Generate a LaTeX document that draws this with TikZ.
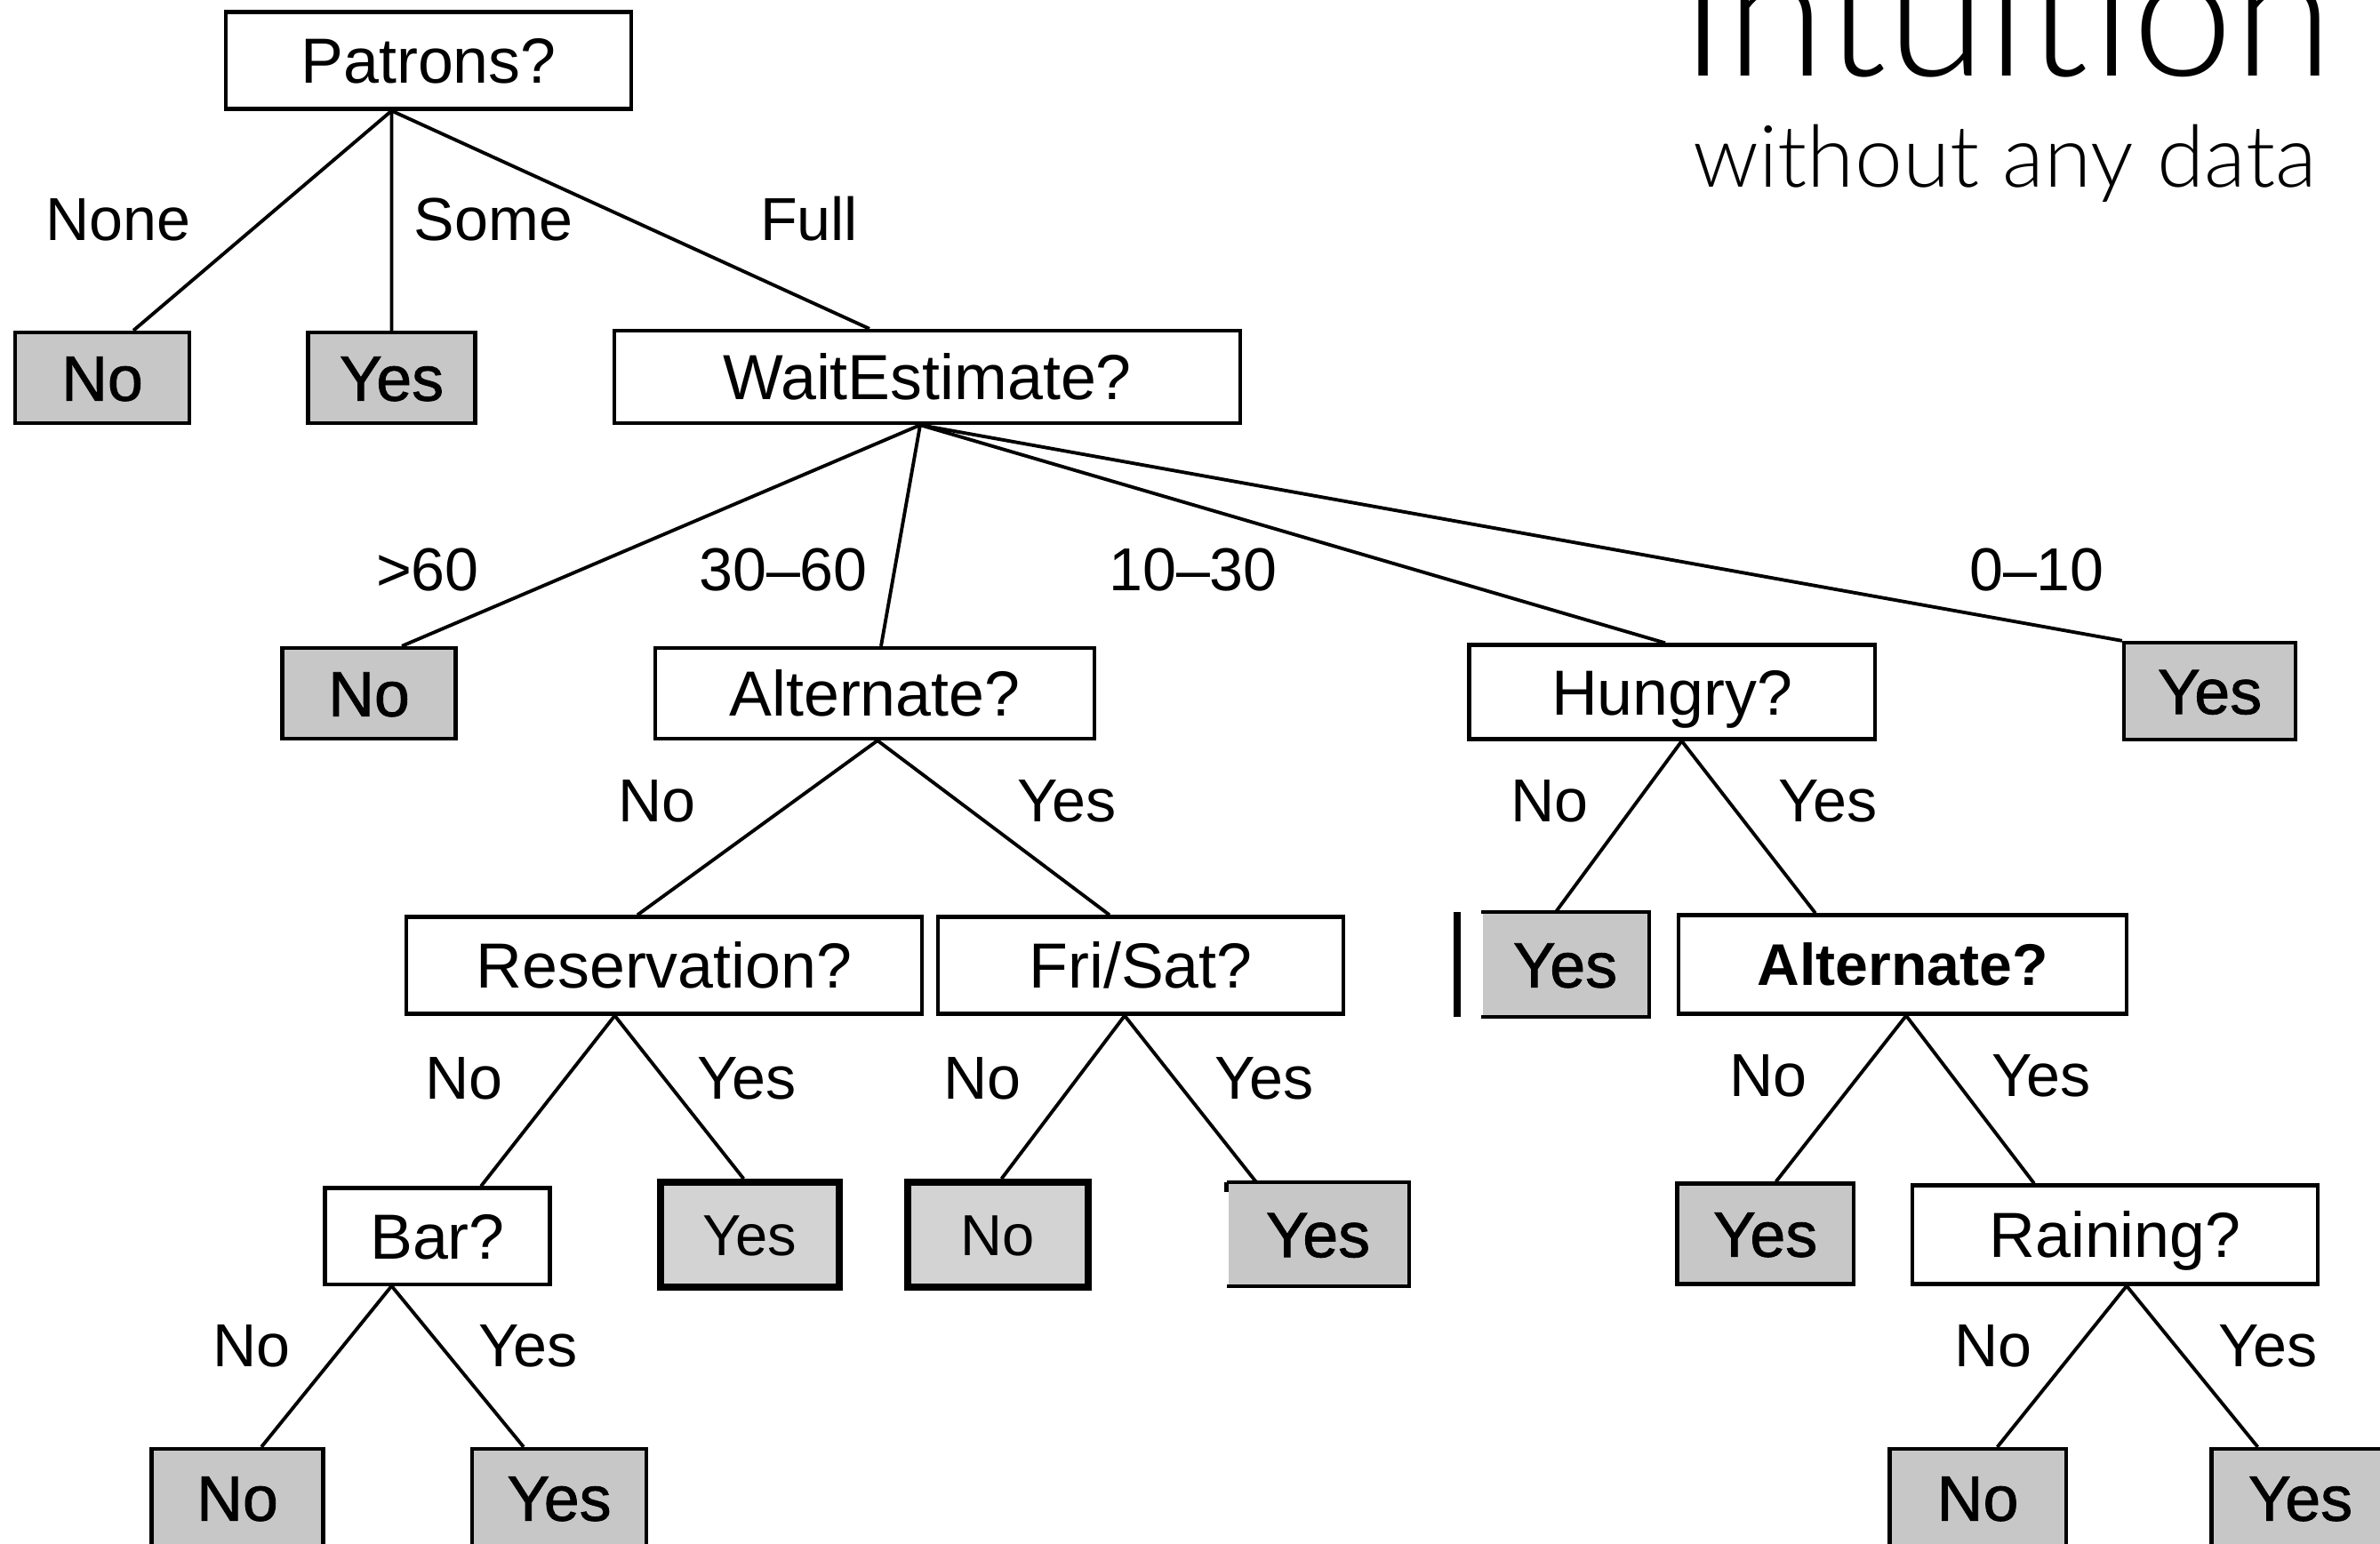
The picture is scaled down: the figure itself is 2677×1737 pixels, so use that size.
\documentclass[tikz,border=0pt]{standalone}
\usepackage{fontspec}
\setmainfont{Liberation Sans}
\newfontfamily\titlefont{Lato}[UprightFont=* Light]
\newfontfamily\leaffont{Liberation Sans}[FakeBold=1.2]
\definecolor{leafgray}{gray}{0.78}
\definecolor{flatgray}{HTML}{D3D3D3}
\newcommand{\nodefont}{\fontsize{20.4}{24}\selectfont}
\newcommand{\lblfont}{\fontsize{19.4}{23}\selectfont}
\newcommand{\flatfont}{\fontsize{18.5}{22}\selectfont}
\begin{document}
\begin{tikzpicture}[x=0.01cm, y=-0.01cm,
    box/.style={draw, line width=1.2pt, inner sep=0pt, font=\nodefont,
      text height=14.6pt, text depth=0pt},
    leaf/.style={box, fill=leafgray, font=\leaffont\nodefont},
    openleaf/.style={leaf, draw=none},
    flatleaf/.style={box, fill=flatgray, line width=2.2pt, font=\flatfont,
      text height=13.2pt},
    lbl/.style={inner sep=0pt, font=\lblfont, text height=13.9pt, text depth=0pt},
    edge/.style={line width=1.1pt}]
    \useasboundingbox (0,0) rectangle (2677,1737);

    % title
    \node[anchor=base, font=\titlefont\fontsize{58}{64}\selectfont] (title) at (2257,86) {Intuition};
    \node[anchor=base, font=\titlefont\fontsize{27.5}{32}\selectfont] (subtitle) at (2255,211) {without any data};

    % level 0 and 1
    \node[box, minimum width=4.56cm, minimum height=1.09cm] (pat) at (482,68) {Patrons?};
    \node[leaf, minimum width=1.96cm, minimum height=1.02cm] (noA) at (115,425) {No};
    \node[leaf, minimum width=1.88cm, minimum height=1.02cm] (yesA) at (440.5,425) {Yes};
    \node[box, minimum width=7.03cm, minimum height=1.04cm] (wait) at (1043,424) {WaitEstimate?};

    % level 2
    \node[leaf, minimum width=1.95cm, minimum height=1.02cm] (noB) at (415,780) {No};
    \node[box, minimum width=4.93cm, minimum height=1.02cm] (alt) at (984,780) {Alternate?};
    \node[box, minimum width=4.56cm, minimum height=1.06cm] (hun) at (1880.6,778.5) {Hungry?};
    \node[leaf, minimum width=1.93cm, minimum height=1.09cm] (yesB) at (2485.5,777.5) {Yes};

    % level 3
    \node[box, minimum width=5.79cm, minimum height=1.09cm] (res) at (747,1086) {Reservation?};
    \node[box, minimum width=4.56cm, minimum height=1.09cm] (fri) at (1283,1086) {Fri/Sat?};
    \node[openleaf, minimum width=1.85cm, minimum height=1.14cm] (yesC) at (1760.5,1085) {Yes};
    \node[box, minimum width=5.04cm, minimum height=1.11cm, font=\fontsize{18.8}{22}\selectfont\bfseries,
      text height=13.5pt] (alt2) at (2140,1085) {Alternate?};

    % level 4
    \node[box, minimum width=2.53cm, minimum height=1.08cm] (bar) at (492,1390.6) {Bar?};
    \node[flatleaf, minimum width=2.01cm, minimum height=1.18cm] (yesD) at (843.4,1389) {Yes};
    \node[flatleaf, minimum width=2.03cm, minimum height=1.18cm] (noD) at (1122.5,1389) {No};
    \node[openleaf, minimum width=2.01cm, minimum height=1.13cm] (yesE) at (1482.5,1388.5) {Yes};
    \node[leaf, minimum width=1.98cm, minimum height=1.13cm] (yesF) at (1985.6,1388) {Yes};
    \node[box, minimum width=4.56cm, minimum height=1.11cm] (rain) at (2379,1389) {Raining?};

    % level 5
    \node[leaf, minimum width=1.93cm, minimum height=1.10cm] (noG) at (267,1685) {No};
    \node[leaf, minimum width=1.96cm, minimum height=1.10cm] (yesG) at (629,1685) {Yes};
    \node[leaf, minimum width=1.98cm, minimum height=1.10cm] (noH) at (2224.6,1685) {No};
    \node[leaf, minimum width=2.00cm, minimum height=1.10cm] (yesH) at (2587.5,1685) {Yes};

    % borders of the two leaves with a broken left side
    \draw[line width=1.2pt] (yesC.north west) -- (yesC.north east) -- (yesC.south east) -- (yesC.south west);
    \draw[line width=2.2pt] ([xshift=-0.27cm]yesC.north west) -- ([xshift=-0.27cm]yesC.south west);
    \draw[line width=1.2pt] (yesE.north west) -- (yesE.north east) -- (yesE.south east) -- (yesE.south west);
    \draw[line width=1.4pt] (yesE.north west) -- ([yshift=-0.11cm]yesE.north west);

    % branches
    \draw[edge] ([xshift=-0.415cm]pat.south) -- ([xshift=0.35cm]noA.north);
    \draw[edge] ([xshift=-0.415cm]pat.south) -- (yesA.north);
    \draw[edge] ([xshift=-0.415cm]pat.south) -- ([xshift=-0.65cm]wait.north);
    \draw[edge] ([xshift=-0.08cm]wait.south) -- ([xshift=0.37cm]noB.north);
    \draw[edge] ([xshift=-0.08cm]wait.south) -- ([xshift=0.07cm]alt.north);
    \draw[edge] ([xshift=-0.08cm]wait.south) -- ([xshift=-0.076cm]hun.north);
    \draw[edge] ([xshift=-0.08cm]wait.south) -- (yesB.north west);
    \draw[edge] ([xshift=0.03cm]alt.south) -- ([xshift=-0.30cm]res.north);
    \draw[edge] ([xshift=0.03cm]alt.south) -- ([xshift=-0.35cm]fri.north);
    \draw[edge] ([xshift=0.11cm]hun.south) -- ([xshift=-0.105cm]yesC.north);
    \draw[edge] ([xshift=0.11cm]hun.south) -- ([xshift=-0.98cm]alt2.north);
    \draw[edge] ([xshift=-0.555cm]res.south) -- ([xshift=0.49cm]bar.north);
    \draw[edge] ([xshift=-0.555cm]res.south) -- ([xshift=-0.07cm]yesD.north);
    \draw[edge] ([xshift=-0.18cm]fri.south) -- ([xshift=0.04cm]noD.north);
    \draw[edge] ([xshift=-0.18cm]fri.south) -- ([xshift=-0.695cm]yesE.north);
    \draw[edge] ([xshift=0.04cm]alt2.south) -- ([xshift=0.12cm]yesF.north);
    \draw[edge] ([xshift=0.04cm]alt2.south) -- ([xshift=-0.91cm]rain.north);
    \draw[edge] ([xshift=-0.515cm]bar.south) -- ([xshift=0.27cm]noG.north);
    \draw[edge] ([xshift=-0.515cm]bar.south) -- ([xshift=-0.40cm]yesG.north);
    \draw[edge] ([xshift=0.13cm]rain.south) -- ([xshift=0.22cm]noH.north);
    \draw[edge] ([xshift=0.13cm]rain.south) -- ([xshift=-0.48cm]yesH.north);

    % branch labels
    \node[lbl] (lNone) at (133,246) {None};
    \node[lbl] (lSome) at (555,246) {Some};
    \node[lbl] (lFull) at (910,246) {Full};
    \node[lbl] (lOver) at (481,640) {>60};
    \node[lbl] (lHalf) at (881,640) {30--60};
    \node[lbl] (lTen) at (1342,640) {10--30};
    \node[lbl] (lZero) at (2291,640) {0--10};
    \node[lbl] (lAltNo) at (739,900) {No};
    \node[lbl] (lAltYes) at (1200,900) {Yes};
    \node[lbl] (lHunNo) at (1743,900) {No};
    \node[lbl] (lHunYes) at (2056,900) {Yes};
    \node[lbl] (lResNo) at (522,1212) {No};
    \node[lbl] (lResYes) at (840,1212) {Yes};
    \node[lbl] (lFriNo) at (1105,1212) {No};
    \node[lbl] (lFriYes) at (1422,1212) {Yes};
    \node[lbl] (lAltTwoNo) at (1989,1209) {No};
    \node[lbl] (lAltTwoYes) at (2296,1209) {Yes};
    \node[lbl] (lBarNo) at (283,1513) {No};
    \node[lbl] (lBarYes) at (594,1513) {Yes};
    \node[lbl] (lRainNo) at (2242,1513) {No};
    \node[lbl] (lRainYes) at (2551,1513) {Yes};
\end{tikzpicture}
\end{document}
